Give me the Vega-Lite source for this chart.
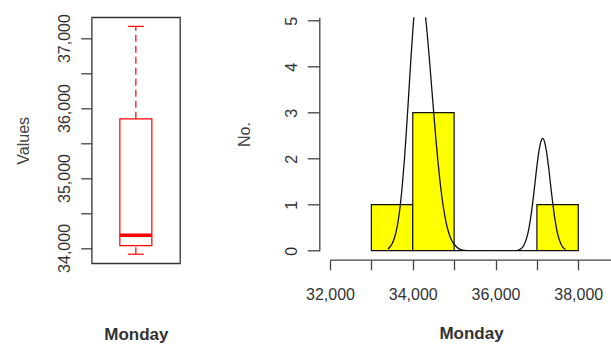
{
  "$schema": "https://vega.github.io/schema/vega-lite/v6.json",
  "autosize": {"type": "none"},
  "padding": {"left": 91.7, "top": 17.3, "right": 519.3, "bottom": 329.7},
  "background": "white",
  "bounds": "flush",
  "spacing": 149.3,
  "config": {
    "font": "Liberation Sans",
    "axis": {"grid": false, "labelFont": "Liberation Sans", "titleFont": "Liberation Sans", "labelColor": "#333", "titleColor": "#333", "tickColor": "#444", "domainColor": "#444", "tickWidth": 1.3, "domainWidth": 1.3, "labelOverlap": false, "labelFlush": false}
  },
  "datasets": {
    "box": [
      {"day": "Monday", "min": 33910, "q1": 34033, "median": 34181, "q3": 35845, "max": 37167}
    ],
    "hist": [
      {"bin_start": 33000, "bin_end": 34000, "count": 1},
      {"bin_start": 34000, "bin_end": 35000, "count": 3},
      {"bin_start": 35000, "bin_end": 36000, "count": 0},
      {"bin_start": 36000, "bin_end": 37000, "count": 0},
      {"bin_start": 37000, "bin_end": 38000, "count": 1}
    ],
    "dens": [
      {"x": 33400, "density": 0.04}, {"x": 33450, "density": 0.08}, {"x": 33500, "density": 0.15},
      {"x": 33550, "density": 0.26}, {"x": 33600, "density": 0.42}, {"x": 33650, "density": 0.66},
      {"x": 33700, "density": 1.0}, {"x": 33750, "density": 1.45}, {"x": 33800, "density": 2.0},
      {"x": 33850, "density": 2.66}, {"x": 33900, "density": 3.37}, {"x": 33950, "density": 4.1},
      {"x": 34000, "density": 4.77}, {"x": 34050, "density": 5.32}, {"x": 34100, "density": 5.68},
      {"x": 34150, "density": 5.8}, {"x": 34200, "density": 5.73}, {"x": 34250, "density": 5.51},
      {"x": 34300, "density": 5.16}, {"x": 34350, "density": 4.71}, {"x": 34400, "density": 4.19},
      {"x": 34450, "density": 3.63}, {"x": 34500, "density": 3.07}, {"x": 34550, "density": 2.52},
      {"x": 34600, "density": 2.02}, {"x": 34650, "density": 1.58}, {"x": 34700, "density": 1.2},
      {"x": 34750, "density": 0.89}, {"x": 34800, "density": 0.64}, {"x": 34850, "density": 0.45},
      {"x": 34900, "density": 0.31}, {"x": 34950, "density": 0.21}, {"x": 35000, "density": 0.14},
      {"x": 35050, "density": 0.09}, {"x": 35100, "density": 0.05}, {"x": 35150, "density": 0.03},
      {"x": 35200, "density": 0.01}, {"x": 35300, "density": 0.0}, {"x": 36500, "density": 0.0},
      {"x": 36590, "density": 0.03}, {"x": 36640, "density": 0.06}, {"x": 36690, "density": 0.13},
      {"x": 36740, "density": 0.24}, {"x": 36790, "density": 0.41}, {"x": 36840, "density": 0.66},
      {"x": 36890, "density": 0.98}, {"x": 36940, "density": 1.36}, {"x": 36990, "density": 1.76},
      {"x": 37040, "density": 2.11}, {"x": 37090, "density": 2.35}, {"x": 37140, "density": 2.44},
      {"x": 37190, "density": 2.35}, {"x": 37240, "density": 2.11}, {"x": 37290, "density": 1.76},
      {"x": 37340, "density": 1.36}, {"x": 37390, "density": 0.98}, {"x": 37440, "density": 0.66},
      {"x": 37490, "density": 0.41}, {"x": 37540, "density": 0.24}, {"x": 37590, "density": 0.13},
      {"x": 37640, "density": 0.06}, {"x": 37690, "density": 0.03}
    ]
  },
  "hconcat": [
    {
      "width": 88.3,
      "height": 246,
      "view": {"stroke": "#333", "strokeWidth": 1.3},
      "data": {"name": "box"},
      "encoding": {
        "x": {"field": "day", "type": "nominal", "scale": {"paddingInner": 0, "paddingOuter": 0},
              "axis": {"title": "Monday", "labels": false, "ticks": false, "domain": false, "tickSize": 0,
                       "titleFontSize": 17, "titleFontWeight": "bold", "titlePadding": 63, "titleColor": "#333"}}
      },
      "layer": [
        {
          "mark": {"type": "rule", "color": "#ff0000", "strokeWidth": 1.2, "strokeDash": [7, 4]},
          "encoding": {
            "y": {"field": "q3", "type": "quantitative",
                  "scale": {"domain": [33780, 37297], "nice": false, "zero": false},
                  "axis": {"title": "Values", "values": [34000, 34500, 35000, 35500, 36000, 36500, 37000],
                           "labelExpr": "datum.value % 1000 == 0 ? format(datum.value, ',') : ''",
                           "domain": false, "tickSize": 11, "labelAngle": -90, "labelAlign": "center",
                           "labelBaseline": "bottom", "labelPadding": 8, "labelFontSize": 16,
                           "titleFontSize": 16, "titleFontWeight": "normal", "titlePadding": 25.5, "titleColor": "#444"}},
            "y2": {"field": "max"}
          }
        },
        {
          "mark": {"type": "rule", "color": "#ff0000", "strokeWidth": 1.2, "strokeDash": [7, 4]},
          "encoding": {"y": {"field": "min", "type": "quantitative"}, "y2": {"field": "q1"}}
        },
        {
          "mark": {"type": "bar", "size": 32, "fill": "white", "stroke": "#ff0000", "strokeWidth": 1.2},
          "encoding": {"y": {"field": "q1", "type": "quantitative"}, "y2": {"field": "q3"}}
        },
        {
          "mark": {"type": "tick", "size": 32, "thickness": 3.5, "color": "#ff0000", "opacity": 1},
          "encoding": {"y": {"field": "median", "type": "quantitative"}}
        },
        {
          "mark": {"type": "tick", "size": 16, "thickness": 1.2, "color": "#ff0000", "opacity": 1},
          "encoding": {"y": {"field": "max", "type": "quantitative"}}
        },
        {
          "mark": {"type": "tick", "size": 16, "thickness": 1.2, "color": "#ff0000", "opacity": 1},
          "encoding": {"y": {"field": "min", "type": "quantitative"}}
        }
      ]
    },
    {
      "width": 282,
      "height": 233.4,
      "view": {"stroke": null},
      "layer": [
        {
          "data": {"name": "hist"},
          "mark": {"type": "bar", "fill": "#ffff00", "stroke": "#111", "strokeWidth": 1.2},
          "encoding": {
            "x": {"field": "bin_start", "type": "quantitative",
                  "scale": {"domain": [32000, 38815], "nice": false, "zero": false},
                  "axis": {"title": "Monday", "offset": 9, "values": [32000, 33000, 34000, 35000, 36000, 37000, 38000],
                           "labelExpr": "datum.value % 2000 == 0 ? format(datum.value, ',') : ''",
                           "tickSize": 10, "labelPadding": 17, "labelFontSize": 16, "labelAngle": 0,
                           "titleFontSize": 17, "titleFontWeight": "bold", "titlePadding": 23}},
            "x2": {"field": "bin_end"},
            "y": {"field": "count", "type": "quantitative",
                  "scale": {"domain": [0, 5.074], "nice": false, "zero": false},
                  "axis": {"title": "No.", "offset": 10.7, "values": [0, 1, 2, 3, 4, 5], "tickSize": 12,
                           "labelAngle": -90, "labelAlign": "center", "labelBaseline": "bottom", "labelPadding": 8,
                           "labelFontSize": 16, "titleFontSize": 16, "titleFontWeight": "normal", "titlePadding": 31, "titleColor": "#444"}},
            "y2": {"datum": 0}
          }
        },
        {
          "data": {"name": "dens"},
          "mark": {"type": "line", "color": "#111", "strokeWidth": 1.3, "interpolate": "monotone", "clip": true},
          "encoding": {
            "x": {"field": "x", "type": "quantitative"},
            "y": {"field": "density", "type": "quantitative"}
          }
        }
      ]
    }
  ]
}
